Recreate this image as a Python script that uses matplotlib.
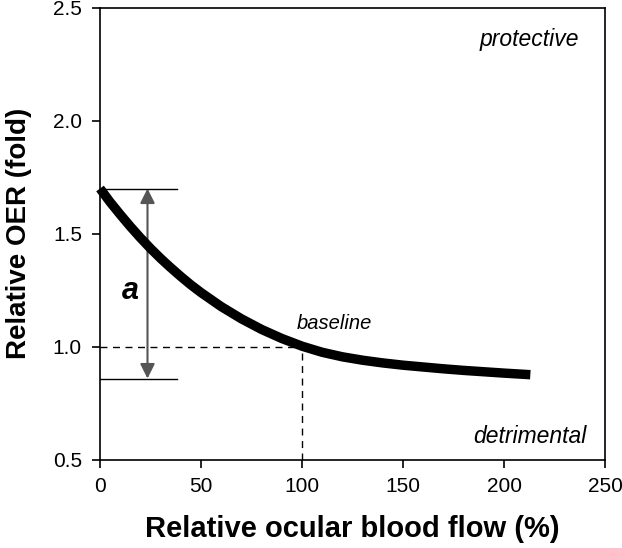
import matplotlib.pyplot as plt

plt.rcParams['font.family'] = ['Liberation Sans', 'DejaVu Sans']

# relative ocular blood flow (%) vs relative OER (fold)
flow = [0, 5, 10, 15, 20, 25, 30, 35, 40, 45, 50, 60, 70, 80, 90, 100,
        110, 120, 130, 140, 150, 160, 170, 180, 190, 200, 213]
oer = [1.70, 1.64, 1.585, 1.532, 1.482, 1.435, 1.391, 1.35, 1.311, 1.274, 1.24,
       1.178, 1.124, 1.077, 1.037, 1.003, 0.976, 0.956, 0.941, 0.929, 0.919,
       0.911, 0.903, 0.896, 0.890, 0.884, 0.877]

a_top = 1.70
a_bottom = 0.86
a_x = 23.5
bar_end = 38
baseline_flow = 100
baseline_oer = 1.0

xticks = [0, 50, 100, 150, 200, 250]
yticks = [0.5, 1.0, 1.5, 2.0, 2.5]

fig = plt.figure(figsize=(6.22, 5.48), dpi=100)
ax = fig.add_axes([0.1608, 0.1606, 0.812, 0.8257])

# baseline guides
ax.plot([0, baseline_flow], [baseline_oer, baseline_oer], color='black', lw=1, dashes=(5, 4))
ax.plot([baseline_flow, baseline_flow], [0.5, baseline_oer], color='black', lw=1, dashes=(5, 4))

# range bars + arrow "a"
ax.plot([0, bar_end], [a_top, a_top], color='black', lw=1)
ax.plot([0, bar_end], [a_bottom, a_bottom], color='black', lw=1)
ax.annotate('', xy=(a_x, a_top), xytext=(a_x, a_bottom),
            arrowprops=dict(arrowstyle='<|-|>', color='#555555', lw=1.5,
                            mutation_scale=22, shrinkA=0, shrinkB=0))

ax.plot(flow, oer, color='black', lw=6.8, solid_capstyle='butt', solid_joinstyle='round',
        clip_on=False, zorder=5)

ax.text(15, 1.245, 'a', fontsize=22, fontweight='bold', fontstyle='italic', ha='center', va='center')
ax.text(116, 1.105, 'baseline', fontsize=14.5, fontstyle='italic', ha='center', va='center')
ax.text(237, 2.36, 'protective', fontsize=16.5, fontstyle='italic', ha='right', va='center')
ax.text(241, 0.605, 'detrimental', fontsize=16.5, fontstyle='italic', ha='right', va='center')

ax.set_xlim(0, 250)
ax.set_ylim(0.5, 2.5)
ax.set_xticks(xticks)
ax.set_yticks(yticks)
ax.set_yticklabels(['%.1f' % v for v in yticks])
ax.tick_params(direction='out', length=6, width=1.2, labelsize=15)
ax.tick_params(axis='x', pad=6)
ax.tick_params(axis='y', pad=7)
for s in ax.spines.values():
    s.set_linewidth(1.2)

ax.set_xlabel('Relative ocular blood flow (%)', fontsize=21, fontweight='bold', labelpad=14)
ax.set_ylabel('Relative OER (fold)', fontsize=20, fontweight='bold', labelpad=15)

fig.savefig('out.png', dpi=100)
